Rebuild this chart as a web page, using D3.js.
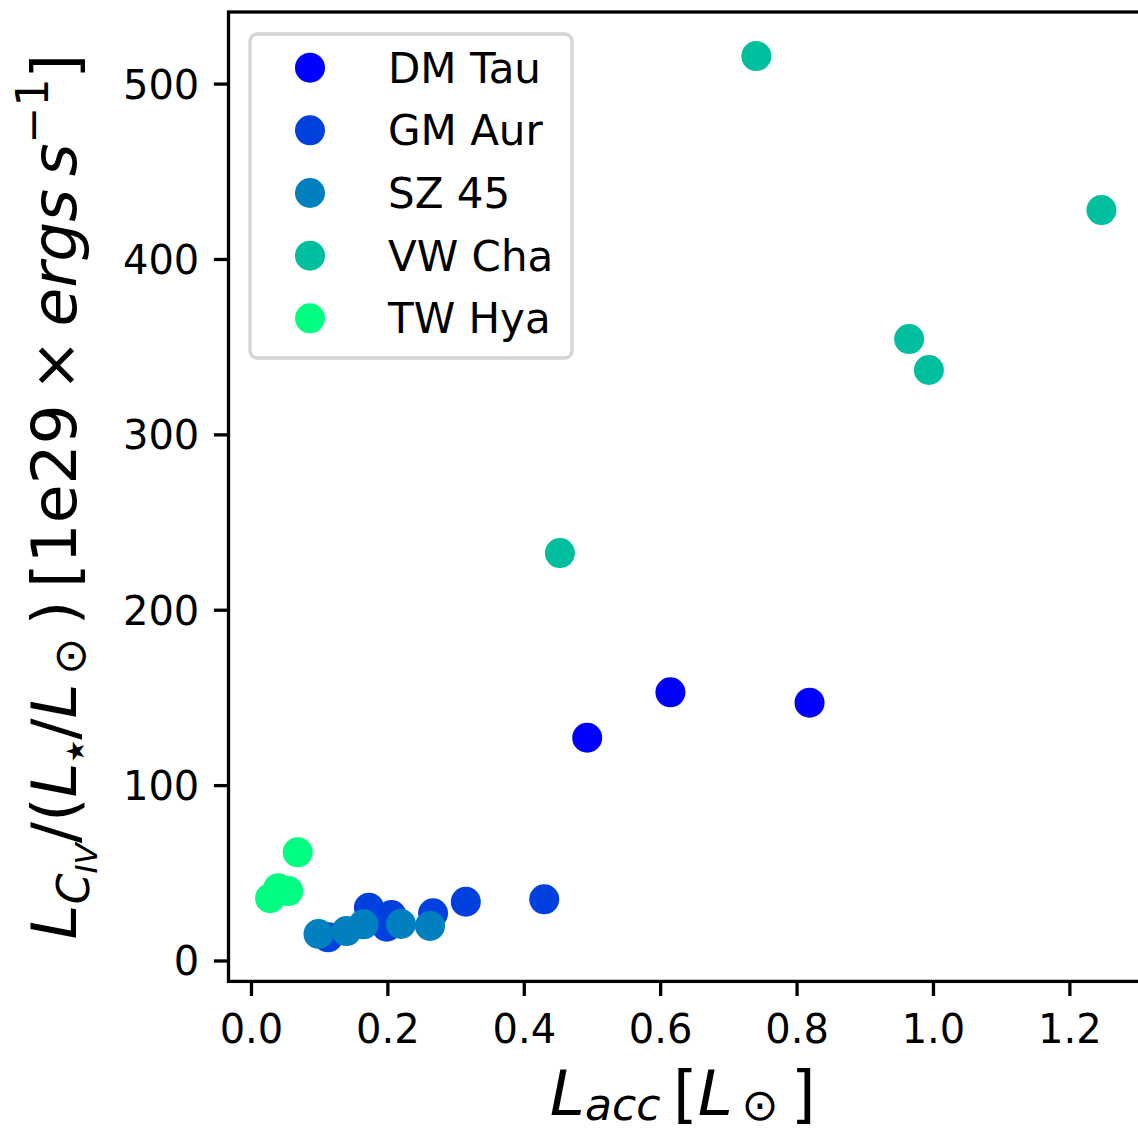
<!DOCTYPE html>
<html>
<head>
<meta charset="utf-8">
<script src="https://cdn.jsdelivr.net/npm/d3@7"></script>
<style>
  html, body { margin: 0; padding: 0; background: #ffffff; }
  svg { display: block; font-family: "DejaVu Sans", sans-serif; }
</style>
</head>
<body>
<svg id="chart" width="1138" height="1131"></svg>
<script>
// Accretion luminosity vs. normalised C IV luminosity, one series per star
const stars = ["DM Tau", "GM Aur", "SZ 45", "VW Cha", "TW Hya"];
const starColors = ["#0000ff", "#0040df", "#0080bf", "#00bf9f", "#00ff80"];

const dmTauLacc = [0.493, 0.615, 0.819];
const dmTauLciv = [127.0, 152.9, 147.0];

const gmAurLacc = [0.113, 0.173, 0.206, 0.199, 0.267, 0.315, 0.430];
const gmAurLciv = [13.2, 30.1, 25.9, 19.3, 26.9, 33.5, 34.9];

const sz45Lacc = [0.099, 0.140, 0.165, 0.220, 0.2625];
const sz45Lciv = [15.1, 16.8, 20.6, 20.8, 19.7];

const vwChaLacc = [0.741, 1.247, 0.965, 0.994, 0.453];
const vwChaLciv = [515.7, 427.9, 354.3, 336.7, 232.3];

const twHyaLacc = [0.0685, 0.028, 0.040, 0.0547];
const twHyaLciv = [61.7, 35.5, 41.2, 39.6];

const xTicks = [0.0, 0.2, 0.4, 0.6, 0.8, 1.0, 1.2];
const yTicks = [0, 100, 200, 300, 400, 500];

const seriesX = [dmTauLacc, gmAurLacc, sz45Lacc, vwChaLacc, twHyaLacc];
const seriesY = [dmTauLciv, gmAurLciv, sz45Lciv, vwChaLciv, twHyaLciv];

const series = stars.map((name, i) => ({
  name,
  color: starColors[i],
  points: seriesX[i].map((x, j) => ({ x, y: seriesY[i][j] }))
}));

// plot frame
const plotL = 228.5, plotR = 1143, plotT = 12, plotB = 981.4;
const lw = 3.3;

// autoscale with 5% padding on each side
function padded(values) {
  const [lo, hi] = d3.extent(values);
  const m = (hi - lo) * 0.05;
  return [lo - m, hi + m];
}
const allX = seriesX.flat(), allY = seriesY.flat();
const x = d3.scaleLinear().domain(padded(allX)).range([plotL, plotR]);
const y = d3.scaleLinear().domain(padded(allY)).range([plotB, plotT]);

const svg = d3.select("#chart");

svg.append("defs").append("clipPath").attr("id", "plotClip")
  .append("rect").attr("x", plotL).attr("y", plotT)
  .attr("width", plotR - plotL).attr("height", plotB - plotT);

// markers
const markers = svg.append("g").attr("clip-path", "url(#plotClip)");
series.forEach(s => {
  markers.append("g").selectAll("circle")
    .data(s.points).join("circle")
    .attr("cx", d => x(d.x))
    .attr("cy", d => y(d.y))
    .attr("r", 15)
    .attr("fill", s.color);
});

// spines
svg.append("rect").attr("x", plotL).attr("y", plotT)
  .attr("width", plotR - plotL).attr("height", plotB - plotT)
  .attr("fill", "none").attr("stroke", "#000").attr("stroke-width", lw);

// axes
const tickLen = 14.6;
const xAxis = d3.axisBottom(x).tickValues(xTicks).tickFormat(d3.format(".1f"))
  .tickSize(tickLen).tickPadding(8);
const gx = svg.append("g").attr("transform", `translate(0,${plotB})`).call(xAxis);
gx.select(".domain").remove();
gx.selectAll(".tick line").attr("stroke", "#000").attr("stroke-width", lw);
gx.selectAll(".tick text").attr("font-size", 40).attr("fill", "#000")
  .attr("font-family", "DejaVu Sans")
  .attr("y", 1043 - plotB).attr("dy", 0);

const yAxis = d3.axisLeft(y).tickValues(yTicks).tickFormat(d3.format("d"))
  .tickSize(tickLen).tickPadding(14.6);
const gy = svg.append("g").attr("transform", `translate(${plotL},0)`).call(yAxis);
gy.select(".domain").remove();
gy.selectAll(".tick line").attr("stroke", "#000").attr("stroke-width", lw);
gy.selectAll(".tick text").attr("font-size", 40).attr("fill", "#000")
  .attr("font-family", "DejaVu Sans").attr("dy", "0.36em");

// math-style label built from tspans; off = downward shift from baseline
function mathLabel(sel, parts, F) {
  let cur = 0;
  parts.forEach(p => {
    const off = (p.off || 0) * F;
    sel.append("tspan")
      .attr("font-size", (p.s || 1) * F)
      .attr("font-style", p.it ? "italic" : "normal")
      .attr("dy", off - cur)
      .text(p.t);
    cur = off;
  });
}

const F = 63;
const xLab = svg.append("text")
  .attr("x", (plotL + plotR) / 2 - 3).attr("y", 1115)
  .attr("text-anchor", "middle").attr("fill", "#000").attr("font-family", "DejaVu Sans");
mathLabel(xLab, [
  { t: "L", it: true },
  { t: "acc", it: true, s: 0.7, off: 0.085 },
  { t: "\u2009[", off: 0 },
  { t: "L", it: true },
  { t: "\u2009\u2299", s: 0.7, off: 0.085 },
  { t: "\u2009]", off: 0 }
], F);

const yLab = svg.append("text")
  .attr("transform", `translate(76,${(plotT + plotB) / 2}) rotate(-90)`)
  .attr("text-anchor", "middle").attr("fill", "#000").attr("font-family", "DejaVu Sans");
mathLabel(yLab, [
  { t: "L", it: true },
  { t: "C", it: true, s: 0.7, off: 0.2 },
  { t: "IV", it: true, s: 0.49, off: 0.33 },
  { t: "/(", off: 0 },
  { t: "L", it: true },
  { t: "\u2605", s: 0.4, off: 0.12 },
  { t: "/", off: 0 },
  { t: "L", it: true },
  { t: "\u2009\u2299", s: 0.7, off: 0.15 },
  { t: "\u2009)\u2009[1e29\u2009\u00d7\u2009", off: 0 },
  { t: "ergs", it: true },
  { t: "\u2009s", it: true },
  { t: "\u2212", s: 0.7, off: -0.45 },
  { t: "1", s: 0.7, off: -0.45 },
  { t: "]", off: 0 }
], F);

// legend
const lg = svg.append("g");
lg.append("rect").attr("x", 250).attr("y", 34).attr("width", 322).attr("height", 324)
  .attr("rx", 7).attr("fill", "#fff").attr("fill-opacity", 0.8)
  .attr("stroke", "#d4d4d4").attr("stroke-width", 3.3);
const rowY = d3.scaleLinear().domain([0, stars.length - 1]).range([67.7, 318.3]);
series.forEach((s, i) => {
  lg.append("circle").attr("cx", 310).attr("cy", rowY(i)).attr("r", 15).attr("fill", s.color);
  lg.append("text").attr("x", 388).attr("y", rowY(i) + 15)
    .attr("font-size", 42).attr("fill", "#000").attr("font-family", "DejaVu Sans")
    .text(s.name);
});
</script>
</body>
</html>
